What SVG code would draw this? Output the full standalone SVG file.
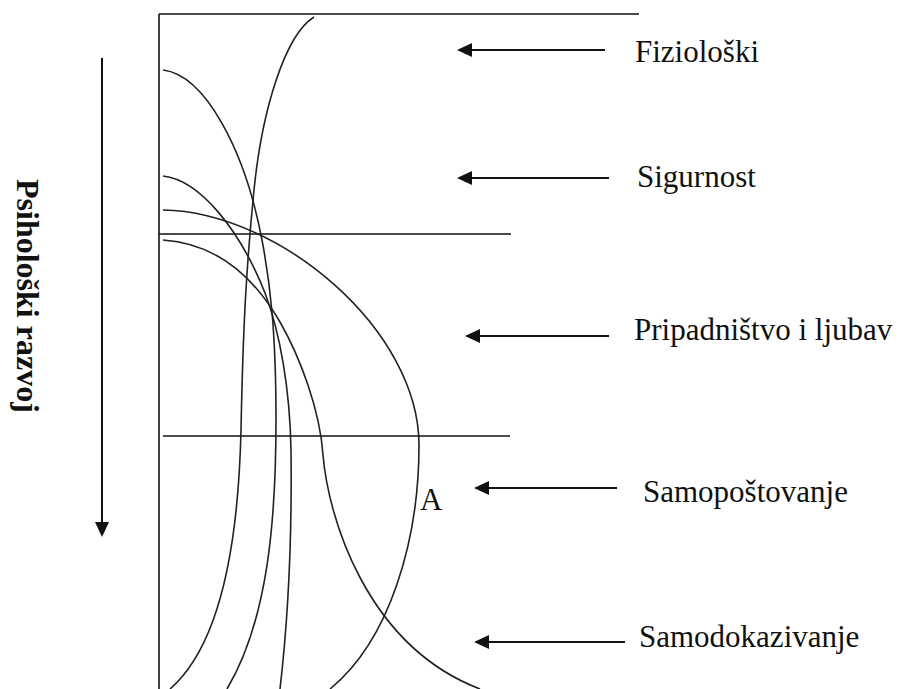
<svg xmlns="http://www.w3.org/2000/svg" width="902" height="689" viewBox="0 0 902 689">
<style>
.frame{stroke:#111;stroke-width:1.6;fill:none}
.curve{stroke:#222;stroke-width:1.6;fill:none}
.arr{stroke:#111;stroke-width:2;fill:none;marker-end:url(#ah)}
.lbl{font-family:"Liberation Serif","Times New Roman",serif;font-size:31px;fill:#111}
.vert{font-family:"Liberation Serif","Times New Roman",serif;font-size:32px;font-weight:bold;fill:#111}
</style>
<defs>
<marker id="ah" viewBox="0 0 15 14" refX="13" refY="7" markerWidth="15" markerHeight="14" markerUnits="userSpaceOnUse" orient="auto">
<path d="M0,0 L15,7 L0,14 z" fill="#111"/>
</marker>
</defs>
<rect width="902" height="689" fill="#fff"/>
<g id="frame">
<line class="frame" x1="159" y1="14" x2="159" y2="689"/>
<line class="frame" x1="159" y1="14" x2="639" y2="14"/>
<line class="frame" x1="159" y1="234" x2="511" y2="234"/>
<line class="frame" x1="163" y1="436" x2="510" y2="436"/>
</g>
<g id="curves">
<path id="curve-fizioloski" class="curve" d="M314,17 C285,35 262,110 254,190 C246,270 243,330 241,430 C238,560 215,650 170,689"/>
<path id="curve-b" class="curve" d="M163,70 C205,75 245,150 262,240 C270,282 276,330 276,420 C276,520 268,620 227,689"/>
<path id="curve-c" class="curve" d="M163,176 C200,180 240,230 265,293 C280,332 290,390 291,450 C292,530 288,620 280,689"/>
<path id="curve-d" class="curve" d="M163,240 C210,243 250,270 280,322 C300,357 320,410 323,455 C328,515 365,645 480,689"/>
<path id="curve-e" class="curve" d="M163,210 C280,212 419,330 419,445 C419,540 390,640 330,689"/>
</g>
<g id="connectors">
<line class="arr" x1="102" y1="58" x2="102" y2="535"/>
<line class="arr" x1="605" y1="50" x2="459" y2="50"/>
<line class="arr" x1="609" y1="178" x2="459" y2="178"/>
<line class="arr" x1="609" y1="336" x2="467" y2="336"/>
<line class="arr" x1="617" y1="488" x2="476" y2="488"/>
<line class="arr" x1="625" y1="642" x2="476" y2="642"/>
</g>
<g id="axis-label">
<text class="vert" transform="translate(17,179) rotate(90)" x="0" y="0">Psihološki razvoj</text>
</g>
<g id="node-fizioloski"><text class="lbl" x="635" y="62">Fiziološki</text></g>
<g id="node-sigurnost"><text class="lbl" x="637" y="187">Sigurnost</text></g>
<g id="node-pripadnistvo"><text class="lbl" x="634" y="340">Pripadništvo i ljubav</text></g>
<g id="node-samopostovanje"><text class="lbl" x="643" y="502">Samopoštovanje</text></g>
<g id="node-samodokazivanje"><text class="lbl" x="639" y="647">Samodokazivanje</text></g>
<g id="label-a"><text class="lbl" x="420" y="510">A</text></g>
</svg>
